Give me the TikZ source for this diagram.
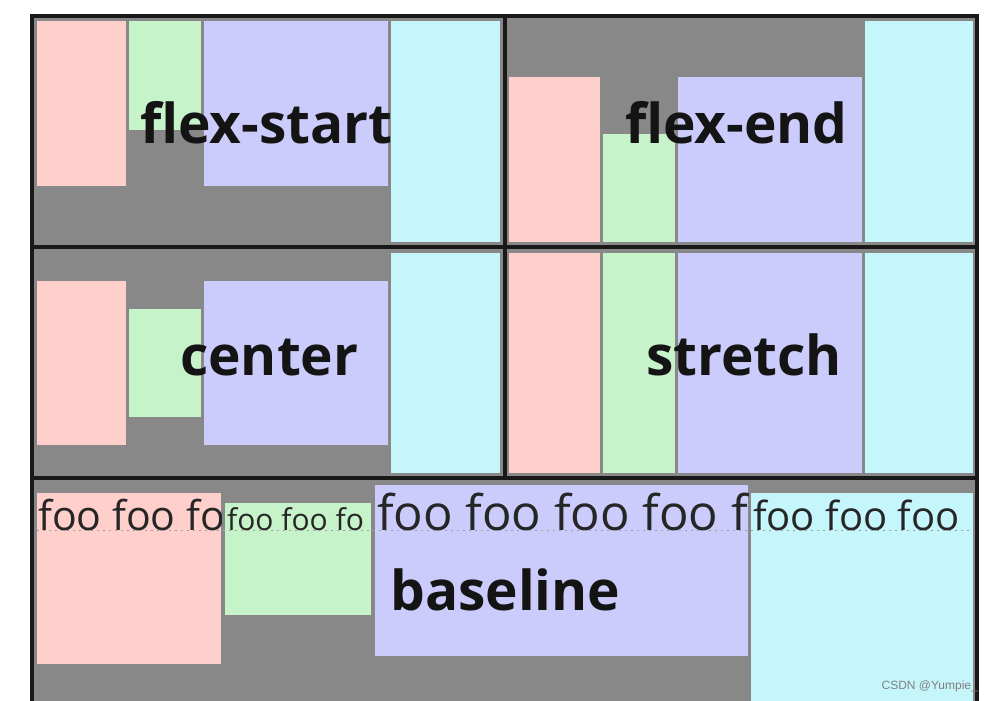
\documentclass[tikz,border=0pt]{standalone}
\usepackage{fontspec}
\setmainfont{Open Sans}
\newfontfamily\markfont{Liberation Sans}
\definecolor{boxpink}{HTML}{FFCFCC}
\definecolor{boxgreen}{HTML}{C6F3CA}
\definecolor{boxblue}{HTML}{CCCCFC}
\definecolor{boxcyan}{HTML}{C4F6FB}
\definecolor{panelgray}{HTML}{888888}

\begin{document}
\begin{tikzpicture}[x=1pt,y=-1pt,
	pinkbox/.style={fill=boxpink},
	greenbox/.style={fill=boxgreen},
	bluebox/.style={fill=boxblue},
	cyanbox/.style={fill=boxcyan},
	frameline/.style={line width=3.5pt,black!90},
	bigtext/.style={anchor=base west,inner sep=0pt,text=black!92,font=\fontsize{55}{60}\selectfont\bfseries},
	footext/.style={anchor=base west,inner sep=0pt,text=black!85}]
		\clip (0,0) rectangle (996,701);
		\fill[white] (0,0) rectangle (996,701);
		\fill[panelgray] (32,16) rectangle (977,720);
		% flex-start
		\fill[pinkbox] (37,21) rectangle (126,186);
		\fill[greenbox] (129,21) rectangle (201,130);
		\fill[bluebox] (204,21) rectangle (388,186);
		\fill[cyanbox] (391,21) rectangle (500,242);
		\node[bigtext] (start) at (140,143) {flex-start};
		% flex-end
		\fill[pinkbox] (509,77) rectangle (600,242);
		\fill[greenbox] (603,134) rectangle (675,242);
		\fill[bluebox] (678,77) rectangle (862,242);
		\fill[cyanbox] (865,21) rectangle (973,242);
		\node[bigtext] (end) at (625,143) {flex-end};
		% center
		\fill[pinkbox] (37,281) rectangle (126,445);
		\fill[greenbox] (129,309) rectangle (201,417);
		\fill[bluebox] (204,281) rectangle (388,445);
		\fill[cyanbox] (391,253) rectangle (500,473);
		\node[bigtext] (center) at (180,375) {center};
		% stretch
		\fill[pinkbox] (509,253) rectangle (600,473);
		\fill[greenbox] (603,253) rectangle (675,473);
		\fill[bluebox] (678,253) rectangle (862,473);
		\fill[cyanbox] (865,253) rectangle (973,473);
		\node[bigtext] (stretch) at (646,375) {stretch};
		% baseline
		\fill[pinkbox] (37,493) rectangle (221,664);
		\fill[greenbox] (225,503) rectangle (371,615);
		\fill[bluebox] (375,485) rectangle (748,656);
		\fill[cyanbox] (751,493) rectangle (973,710);
		\begin{scope}
			\clip (37,485) rectangle (221,664);
			\node[footext,font=\fontsize{41}{44}\selectfont] (foopink) at (38,530) {foo foo fo};
		\end{scope}
		\begin{scope}
			\clip (225,485) rectangle (371,615);
			\node[footext,font=\fontsize{30}{33}\selectfont] (foogreen) at (227,530) {foo foo fo};
		\end{scope}
		\begin{scope}
			\clip (375,485) rectangle (748,656);
			\node[footext,font=\fontsize{49}{52}\selectfont] (fooblue) at (377,530) {foo foo foo foo f};
		\end{scope}
		\node[footext,font=\fontsize{40}{44}\selectfont] (foocyan) at (753,530) {foo foo foo};
		\coordinate (lineL) at (37,530);
		\coordinate (lineR) at (972,530);
		\draw[gray!75,line width=1pt,dash pattern=on 2pt off 4pt] (lineL) -- (lineR);
		\node[bigtext] (baseline) at (390,610) {baseline};
		% frames
		\draw[frameline] (32,16) rectangle (977,720);
		\draw[frameline] (32,247) -- (977,247);
		\draw[frameline] (32,478) -- (977,478);
		\draw[frameline] (505,16) -- (505,478);
		\node[anchor=base east,inner sep=0pt,text=gray,font=\markfont\fontsize{12}{12}\selectfont] (mark) at (978,689) {CSDN @Yumpie\_};
	\end{tikzpicture}
\end{document}
